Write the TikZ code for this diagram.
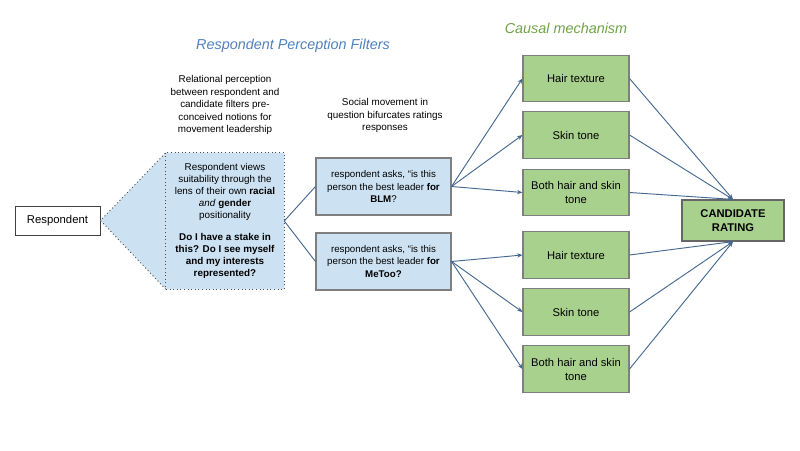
\documentclass[tikz,border=0pt]{standalone}
\usepackage{fontspec}
\setmainfont{Liberation Sans}
\usetikzlibrary{arrows.meta}
\definecolor{calfill}{HTML}{CCE2F3}
\definecolor{grfill}{HTML}{A9D18E}
\definecolor{linecol}{HTML}{44688F}
\definecolor{titleblue}{HTML}{4F81BD}
\definecolor{titlegreen}{HTML}{6FA347}
\definecolor{boxborder}{HTML}{7F7F7F}
\tikzset{
  smalltxt/.style={font=\fontsize{7.4}{9.4}\selectfont, align=center, inner sep=0pt},
  bluebox/.style={draw=boxborder, fill=calfill, line width=0.8pt, minimum width=101.25pt, minimum height=42.75pt, inner sep=0pt, align=center, font=\fontsize{7.3}{9.6}\selectfont},
  greenbox/.style={draw=boxborder, fill=grfill, line width=0.8pt, minimum width=79.5pt, minimum height=35pt, inner sep=0pt, align=center, font=\fontsize{8.4}{10.5}\selectfont},
  conn/.style={draw=linecol, line width=0.7pt},
  arr/.style={conn, -{Stealth[length=4pt,width=3.2pt]}},
  titletxt/.style={font=\fontsize{10.8}{13}\selectfont\itshape}
}
\begin{document}
\begin{tikzpicture}[x=0.75pt,y=-0.75pt]
\useasboundingbox (0,0) rectangle (800,450);

% titles
\node[titletxt, text=titleblue] (t1) at (293,46) {Respondent Perception Filters};
\node[titletxt, text=titlegreen] (t2) at (566,28) {Causal mechanism};

\node[smalltxt] (rel) at (225,105) {Relational perception\\between respondent and\\candidate filters pre-\\conceived notions for\\movement leadership};
\node[smalltxt] (soc) at (385,115.5) {Social movement in\\question bifurcates ratings\\responses};

% respondent
\node[draw=black!75, line width=0.7pt, fill=white, minimum width=63.75pt, minimum height=21.75pt, inner sep=0pt, font=\fontsize{8.5}{10}\selectfont] (resp) at (57.5,220.5) {Respondent};

% callout
\node[minimum width=88.5pt, minimum height=102pt, inner sep=0pt] (cal) at (225,221) {};
\fill[calfill] (resp.east) -- (cal.north west) -- (cal.north east) -- (cal.south east) -- (cal.south west) -- cycle;
\draw[dotted, line width=0.7pt, black!70] (cal.south west) -- (resp.east) -- (cal.north west);
\draw[dotted, line width=0.7pt, black!70] (cal.north west) rectangle (cal.south east);
\node[font=\fontsize{7.4}{9}\selectfont, align=center, inner sep=0pt] (caltxt) at (cal.center) {Respondent views\\suitability through the\\lens of their own \textbf{racial}\\\textit{and} \textbf{gender}\\positionality\\[8pt]\textbf{Do I have a stake in}\\\textbf{this? Do I see myself}\\\textbf{and my interests}\\\textbf{represented?}};

% movement boxes
\node[bluebox] (blm) at (383.5,186.5) {respondent asks, “is this\\person the best leader \textbf{for}\\\textbf{BLM}?};
\node[bluebox] (mtoo) at (383.5,261.5) {respondent asks, “is this\\person the best leader \textbf{for}\\\textbf{MeToo?}};

\draw[conn] (cal.east) -- (blm.west);
\draw[conn] (cal.east) -- (mtoo.west);

% green boxes
\node[greenbox] (h1) at (576,78.5) {Hair texture};
\node[greenbox] (s1) at (576,135) {Skin tone};
\node[greenbox] (b1) at (576,192.5) {Both hair and skin\\tone};
\node[greenbox] (h2) at (576,255) {Hair texture};
\node[greenbox] (s2) at (576,312) {Skin tone};
\node[greenbox] (b2) at (576,369) {Both hair and skin\\tone};

\node[draw=black!60, line width=0.9pt, fill=grfill, minimum width=76.5pt, minimum height=30.75pt, inner sep=0pt, align=center, font=\fontsize{8.4}{10.5}\selectfont\bfseries] (cand) at (733,220.5) {CANDIDATE\\RATING};

\foreach \g in {h1,s1,b1} \draw[arr] (blm.east) -- (\g.west);
\foreach \g in {h2,s2,b2} \draw[arr] (mtoo.east) -- (\g.west);
\foreach \g in {h1,s1,b1} \draw[arr] (\g.east) -- (cand.north);
\foreach \g in {h2,s2,b2} \draw[arr] (\g.east) -- (cand.south);
\end{tikzpicture}
\end{document}
